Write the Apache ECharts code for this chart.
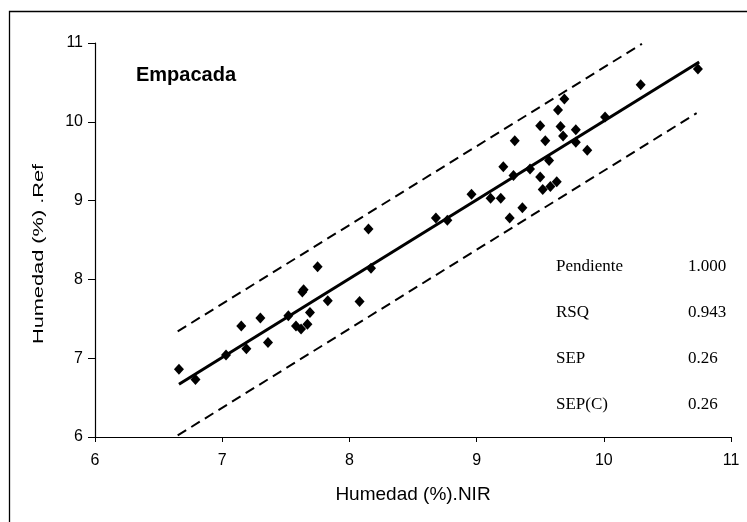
<!DOCTYPE html>
<html><head><meta charset="utf-8">
<script src="https://cdn.jsdelivr.net/npm/echarts@6/dist/echarts.min.js"></script>
<style>html,body{margin:0;padding:0;background:#fff}#c{width:747px;height:522px}</style>
</head><body><div id="c"></div>
<script>
// Humedad (%) NIR (x) vs Referencia (y)
const nirX = [6.66, 6.79, 7.03, 7.15, 7.19, 7.30, 7.36, 7.52, 7.58, 7.62, 7.67, 7.63, 7.64, 7.69, 7.75, 7.83,
  8.08, 8.15, 8.17, 8.68, 8.77, 8.96, 9.11, 9.19, 9.21, 9.26, 9.29, 9.30, 9.36, 9.42, 9.50, 9.52, 9.58, 9.63,
  9.50, 9.54, 9.57, 9.64, 9.66, 9.68, 9.69, 9.78, 9.78, 9.87, 10.01, 10.29, 10.74];
const refY = [6.86, 6.73, 7.04, 7.41, 7.12, 7.51, 7.20, 7.54, 7.41, 7.37, 7.43, 7.84, 7.87, 7.58, 8.16, 7.73,
  7.72, 8.64, 8.14, 8.78, 8.75, 9.08, 9.03, 9.03, 9.43, 8.78, 9.32, 9.76, 8.91, 9.40, 9.30, 9.14, 9.18, 9.24,
  9.95, 9.76, 9.51, 10.15, 9.94, 9.82, 10.29, 9.90, 9.74, 9.64, 10.06, 10.47, 10.67];
const fitX = [6.66, 10.75];
const fitY = [6.67, 10.76];
const upperX = [6.65, 10.30];
const upperY = [7.34, 10.99];
const lowerX = [6.65, 10.73];
const lowerY = [6.02, 10.11];
const axisMin = 6, axisMax = 11, axisStep = 1;
const statNames = ['Pendiente', 'RSQ', 'SEP', 'SEP(C)'];
const statValues = ['1.000', '0.943', '0.26', '0.26'];
const chartLabel = 'Empacada';
const xTitle = 'Humedad (%).NIR';
const yTitle = 'Humedad (%) .Ref';

const zip = (a, b) => a.map((v, i) => [v, b[i]]);
const SANS = "'Liberation Sans', Arial, sans-serif";
const SERIF = "'Liberation Serif', 'Times New Roman', serif";

const chart = echarts.init(document.getElementById('c'), null, {renderer: 'canvas'});

const graphics = [
  {type: 'rect', shape: {x: 9.5, y: 11.5, width: 900, height: 700}, style: {fill: 'none', stroke: '#000', lineWidth: 1.3}, silent: true, z: 0},
  {type: 'text', x: 186, y: 75, style: {text: chartLabel, font: "bold 20px " + SANS, fill: '#000', textAlign: 'center', textVerticalAlign: 'middle'}},
  {type: 'text', x: 39, y: 254, rotation: Math.PI / 2, scaleX: 1.45, style: {text: yTitle, font: "15px " + SANS, fill: '#000', textAlign: 'center', textVerticalAlign: 'middle'}}
];
statNames.forEach((n, i) => {
  graphics.push({type: 'text', x: 556, y: 267 + i * 46, style: {text: n, font: "17px " + SERIF, fill: '#000', textAlign: 'left', textVerticalAlign: 'middle'}});
  graphics.push({type: 'text', x: 688, y: 267 + i * 46, style: {text: statValues[i], font: "17px " + SERIF, fill: '#000', textAlign: 'left', textVerticalAlign: 'middle'}});
});

const labelStyle = {color: '#000', fontSize: 16, fontFamily: SANS};

chart.setOption({
  animation: false,
  backgroundColor: '#fff',
  grid: {left: 95, right: 16, top: 43, bottom: 85, containLabel: false},
  xAxis: {
    type: 'value', min: axisMin, max: axisMax, interval: axisStep,
    splitLine: {show: false},
    axisLine: {show: true, onZero: false, lineStyle: {color: '#000', width: 1.2}},
    axisTick: {show: true, length: 5, lineStyle: {color: '#000'}},
    axisLabel: Object.assign({margin: 16}, labelStyle),
    name: xTitle, nameLocation: 'middle', nameGap: 48,
    nameTextStyle: {color: '#000', fontSize: 19, fontFamily: SANS}
  },
  yAxis: {
    type: 'value', min: axisMin, max: axisMax, interval: axisStep,
    splitLine: {show: false},
    axisLine: {show: true, onZero: false, lineStyle: {color: '#000', width: 1.2}},
    axisTick: {show: true, length: 7, lineStyle: {color: '#000'}},
    axisLabel: Object.assign({margin: 12}, labelStyle)
  },
  graphic: graphics,
  series: [
    {type: 'line', data: zip(upperX, upperY), showSymbol: false, symbol: 'none', lineStyle: {color: '#000', width: 2, type: [10, 6], opacity: 1}, z: 2},
    {type: 'line', data: zip(lowerX, lowerY), showSymbol: false, symbol: 'none', lineStyle: {color: '#000', width: 2, type: [10, 6], opacity: 1}, z: 2},
    {type: 'line', data: zip(fitX, fitY), showSymbol: false, symbol: 'none', lineStyle: {color: '#000', width: 3, opacity: 1}, z: 3},
    {type: 'scatter', data: zip(nirX, refY), symbol: 'diamond', symbolSize: [10, 11], itemStyle: {color: '#000', opacity: 1}, z: 4}
  ]
});
</script></body></html>
